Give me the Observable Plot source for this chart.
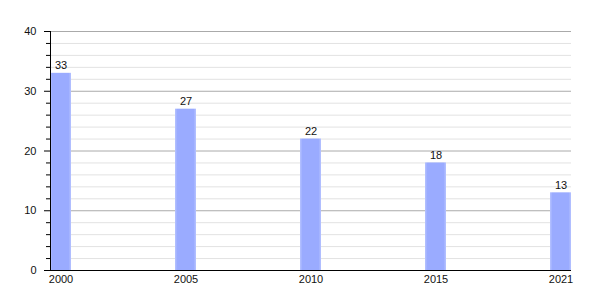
<!DOCTYPE html>
<html><head><meta charset="utf-8">
<script src="https://cdn.jsdelivr.net/npm/d3@7"></script>
<script src="https://cdn.jsdelivr.net/npm/@observablehq/plot@0.6"></script>
<style>body{margin:0;background:#fff;} svg{font-family:"Liberation Sans",Arial,sans-serif;}</style>
</head><body><div id="chart"></div>
<script>
const years = ["2000","2005","2010","2015","2021"];
const values = [33,27,22,18,13];
const data = years.map((y,i)=>({year:y, value:values[i]}));
const minorTicks = d3.range(0,41,2).filter(v=>v%10!==0);
const majorTicks = [0,10,20,30,40];

const chart = Plot.plot({
  width:600, height:300,
  marginLeft:50, marginRight:29, marginTop:31, marginBottom:30,
  style:{fontFamily:"Liberation Sans, Arial, sans-serif", fontSize:"11px", color:"#111", background:"#fff"},
  x:{type:"band", domain:years, paddingInner:0.832, paddingOuter:0, label:null},
  y:{domain:[0,40], label:null},
  marks:[
    Plot.ruleY(minorTicks,{stroke:"#e2e2e2", strokeWidth:1}),
    Plot.ruleY([10,20,30,40],{stroke:"#aaaaaa", strokeWidth:1}),
    Plot.barY(data,{x:"year", y:"value", fill:"url(#barGrad)"}),
    Plot.text(data,{x:"year", y:"value", text:d=>String(d.value), lineAnchor:"bottom", dy:-4, fill:"#111", fontSize:11}),
    Plot.ruleY([0],{stroke:"#000"}),
    Plot.frame({anchor:"left", stroke:"#000"}),
    Plot.axisY(minorTicks,{tickSize:4, text:null, stroke:"#000", label:null}),
    Plot.axisY({ticks:majorTicks, tickSize:6, tickPadding:8, stroke:"#000", label:null}),
    Plot.axisX({tickSize:0, tickPadding:5, label:null})
  ]
});
const ns = "http://www.w3.org/2000/svg";
const defs = document.createElementNS(ns,"defs");
defs.innerHTML = `<linearGradient id="barGrad" x1="0" x2="1" y1="0" y2="0">
<stop offset="0" stop-color="#b6c3ff"/><stop offset="0.12" stop-color="#9aabff"/>
<stop offset="0.88" stop-color="#9aabff"/><stop offset="1" stop-color="#b6c3ff"/></linearGradient>`;
chart.insertBefore(defs, chart.firstChild);
document.getElementById("chart").appendChild(chart);
</script>
</body></html>
